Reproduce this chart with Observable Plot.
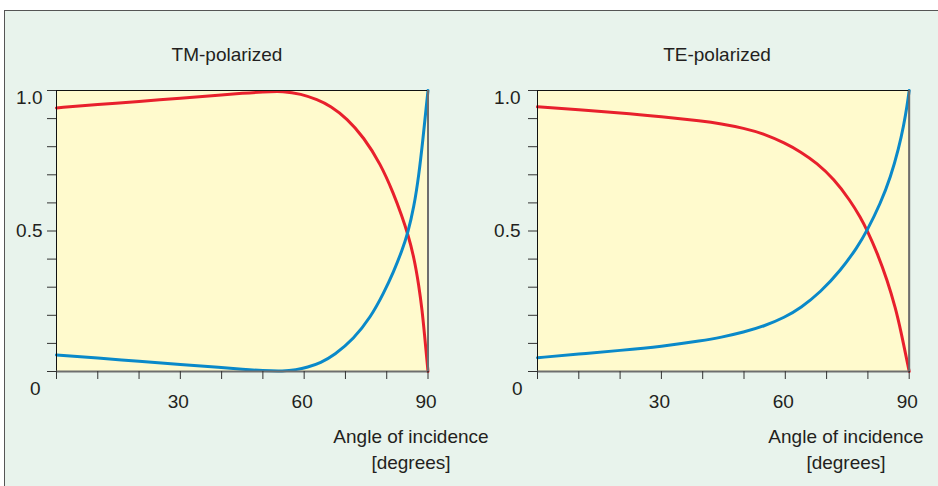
<!DOCTYPE html>
<html><head><meta charset="utf-8">
<script src="https://cdn.jsdelivr.net/npm/d3@7"></script>
<script src="https://cdn.jsdelivr.net/npm/@observablehq/plot@0.6"></script>
<style>
html,body{margin:0;padding:0;background:#fff;overflow:hidden;width:938px;height:486px;}
#box{position:absolute;left:4px;top:10px;width:1000px;height:600px;background:#e8f3ec;border-left:1px solid #555;border-top:1px solid #555;}
.lbl{position:absolute;font-family:"Liberation Sans",Arial,sans-serif;font-size:19px;line-height:19px;color:#231f20;white-space:nowrap;transform:translateX(-50%);}
.panel{position:absolute;top:0;}
</style></head>
<body>
<div id="box"></div>
<div id="left" class="panel" style="left:0px"></div>
<div id="right" class="panel" style="left:470px"></div>
<script>
// ---- data ----
const titles = ["TM-polarized", "TE-polarized"];
const xLabelLines = ["Angle of incidence", "[degrees]"];
const xTicks = [0, 10, 20, 30, 40, 50, 60, 70, 80, 90];
const xLabelTicks = [30, 60, 90];
const yTicks = [0, 0.1, 0.2, 0.3, 0.4, 0.5, 0.6, 0.7, 0.8, 0.9, 1.0];
const yLabels = ["0", "0.5", "1.0"];

// TM-polarized: reflected (blue)
const tmReflAngles = [0, 10, 20, 30, 40, 45, 50, 55, 58, 60.8, 64, 67.3, 72.0, 76.1, 79.3, 81.7, 83.7, 85.1, 86.6, 87.8, 88.8, 89.6, 90];
const tmRefl       = [0.059, 0.048, 0.036, 0.025, 0.014, 0.008, 0.003, 0.001, 0.006, 0.015, 0.031, 0.058, 0.116, 0.193, 0.280, 0.356, 0.430, 0.492, 0.585, 0.700, 0.830, 0.945, 1.0];
// TM-polarized: transmitted (red)
const tmTransAngles = [0, 10, 20, 30, 40, 45, 50, 55, 59.2, 63.2, 66.4, 70.4, 74.4, 78.5, 81.7, 83.7, 85.1, 86.6, 87.8, 88.6, 89.1, 90];
const tmTrans       = [0.938, 0.950, 0.961, 0.973, 0.984, 0.990, 0.995, 0.998, 0.988, 0.968, 0.945, 0.900, 0.834, 0.739, 0.632, 0.552, 0.490, 0.407, 0.305, 0.215, 0.140, 0.0];
// TE-polarized: reflected (blue)
const teReflAngles = [0, 10, 20, 30, 40, 44.3, 50, 54.8, 59.9, 63.7, 68.5, 73.4, 77.4, 79.8, 83.1, 85.5, 87.5, 88.7, 89.5, 90];
const teRefl       = [0.049, 0.062, 0.075, 0.089, 0.110, 0.121, 0.140, 0.161, 0.193, 0.226, 0.282, 0.360, 0.441, 0.501, 0.600, 0.692, 0.796, 0.878, 0.946, 1.0];
// TE-polarized: transmitted (red)
const teTransAngles = [0, 10, 20, 30, 40, 44.3, 50, 54.8, 59.9, 63.7, 67.7, 71.7, 75.8, 78.2, 79.8, 82.3, 84.7, 86.7, 87.9, 90];
const teTrans       = [0.942, 0.931, 0.921, 0.907, 0.891, 0.882, 0.866, 0.846, 0.813, 0.782, 0.741, 0.686, 0.607, 0.548, 0.503, 0.421, 0.324, 0.225, 0.150, 0.0];

const RED = "#e8202c", BLUE = "#0a89c9";
const FONT = '"Liberation Sans", Arial, sans-serif';

function panel(el, cfg) {
  const R = cfg.reflA.map((a, i) => ({a, v: cfg.refl[i]}));
  const T = cfg.transA.map((a, i) => ({a, v: cfg.trans[i]}));
  const chart = Plot.plot({
    width: cfg.width, height: 486,
    marginLeft: cfg.ml, marginRight: cfg.mr, marginTop: 90, marginBottom: 115,
    x: {domain: [0, 90], label: null},
    y: {domain: [0, 1], label: null},
    style: {background: "transparent", fontFamily: FONT, fontSize: "19px", color: "#231f20", overflow: "visible"},
    marks: [
      Plot.frame({fill: "#fffacd", stroke: null}),
      Plot.lineY(T, {x: "a", y: "v", stroke: RED, strokeWidth: 3, curve: "basis"}),
      Plot.lineY(R, {x: "a", y: "v", stroke: BLUE, strokeWidth: 3, curve: "basis"}),
      Plot.frame({stroke: "#111", strokeWidth: 1}),
      Plot.ruleY([0], {stroke: "#6e6e6e", strokeWidth: 2}),
      Plot.ruleX([90], {stroke: "#6e6e6e", strokeWidth: 2}),
      Plot.axisX({ticks: xTicks, tickSize: 8, tickFormat: () => "", stroke: "#333", label: null}),
      Plot.axisX({ticks: xLabelTicks, tickSize: 0, tickPadding: 23, dx: -2, tickFormat: d => String(d), fill: "#231f20", label: null}),
      Plot.axisY({ticks: yTicks, tickSize: 9, tickFormat: () => "", stroke: "#333", label: null}),
      Plot.axisY({ticks: [0.5], tickSize: 0, tickPadding: cfg.pad, tickFormat: () => yLabels[1], fill: "#231f20", label: null}),
      Plot.axisY({ticks: [1], tickSize: 0, tickPadding: cfg.pad, dy: 7, tickFormat: () => yLabels[2], fill: "#231f20", label: null}),
      Plot.axisY({ticks: [0], tickSize: 0, tickPadding: cfg.pad0, dy: 17, tickFormat: () => yLabels[0], fill: "#231f20", label: null})
    ]
  });
  el.appendChild(chart);
}

panel(document.getElementById("left"), {width: 470, ml: 56, mr: 42.5, pad: 14, pad0: 16,
  reflA: tmReflAngles, refl: tmRefl, transA: tmTransAngles, trans: tmTrans});
panel(document.getElementById("right"), {width: 468, ml: 67, mr: 29.3, pad: 17, pad0: 15,
  reflA: teReflAngles, refl: teRefl, transA: teTransAngles, trans: teTrans});

// text labels (HTML, outside the SVGs)
function addLabel(text, cx, top) {
  const d = document.createElement("div");
  d.className = "lbl";
  d.textContent = text;
  d.style.left = cx + "px";
  d.style.top = top + "px";
  document.body.appendChild(d);
}
addLabel(titles[0], 227, 45);
addLabel(titles[1], 717, 45);
addLabel(xLabelLines[0], 411, 427);
addLabel(xLabelLines[1], 411, 453);
addLabel(xLabelLines[0], 846, 427);
addLabel(xLabelLines[1], 846, 453);
</script>
</body></html>
